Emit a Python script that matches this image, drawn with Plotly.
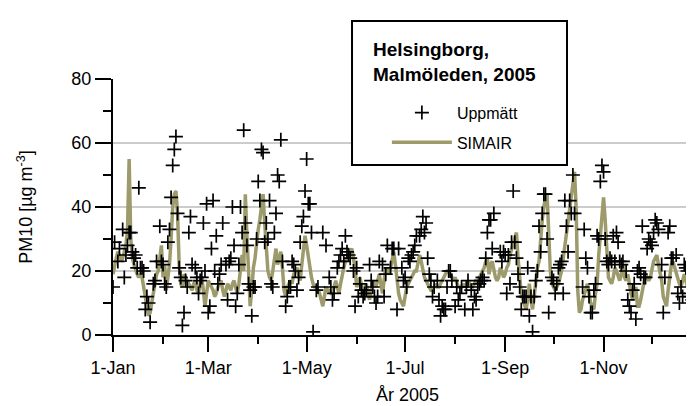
import pandas as pd
import plotly.graph_objects as go

# daily series, 2005
days = pd.date_range("2005-01-01", periods=365, freq="D")

# SIMAIR model (daily mean PM10)
simair = [
    19, 22, 24, 26, 25, 23, 24, 26, 28, 33,
    55, 30, 24, 22, 20, 19, 18, 19, 18, 15,
    12, 8, 6, 7, 10, 14, 17, 19, 20, 25,
    28, 18, 22, 14, 18, 22, 30, 40, 44, 45,
    38, 22, 16, 15, 19, 18, 17, 16, 15, 14,
    16, 17, 14, 13, 16, 18, 14, 9, 13, 17,
    16, 15, 14, 12, 13, 15, 16, 17, 14, 12,
    14, 16, 15, 14, 16, 17, 15, 13, 16, 22,
    25, 20, 44, 31, 19, 9, 14, 21, 24, 30,
    33, 36, 40, 44, 35, 27, 20, 18, 17, 20,
    23, 27, 22, 24, 26, 21, 14, 12, 15, 16,
    17, 16, 19, 20, 21, 19, 17, 22, 27, 31,
    28, 24, 22, 18, 16, 15, 15, 14, 13, 11,
    9, 12, 15, 14, 14, 13, 13, 15, 17, 15,
    13, 16, 19, 21, 23, 24, 25, 26, 27, 24,
    21, 15, 16, 18, 15, 13, 14, 16, 13, 11,
    14, 17, 16, 15, 17, 19, 16, 13, 17, 21,
    20, 19, 21, 23, 26, 22, 16, 13, 11, 10,
    9, 12, 15, 16, 17, 18, 19, 20, 20, 22,
    25, 23, 20, 18, 17, 16, 15, 14, 14, 15,
    16, 15, 15, 16, 17, 18, 19, 20, 20, 19,
    18, 17, 18, 16, 15, 15, 15, 16, 15, 16,
    17, 16, 15, 15, 16, 17, 17, 18, 19, 20,
    21, 23, 24, 19, 22, 23, 20, 18, 17, 18,
    21, 20, 18, 19, 21, 22, 25, 27, 29, 31,
    32, 24, 18, 13, 11, 9, 8, 11, 16, 11,
    8, 12, 18, 21, 23, 30, 36, 40, 43, 44,
    30, 20, 16, 15, 14, 15, 16, 18, 20, 24,
    28, 33, 37, 41, 45, 49, 51, 40, 14, 7,
    8, 11, 13, 15, 16, 13, 10, 9, 8, 13,
    16, 25, 31, 40, 43, 36, 24, 18, 17, 16,
    18, 21, 20, 18, 17, 19, 22, 18, 17, 19,
    15, 13, 11, 13, 15, 9, 9, 11, 14, 17,
    19, 18, 17, 18, 21, 23, 24, 25, 22, 19,
    17, 12, 10, 9, 14, 19, 22, 23, 21, 19,
    17, 16, 15, 17, 19, 17, 15, 16, 17, 14,
    12, 12, 13, 15, 17,
]

# measured (Uppmätt), None = no measurement
uppmatt = [
    15, 29, None, 23, 27, None, 33, 18, 25, 28,
    32, 32, 26, 24, 25, 21, 46, 21, 21, 20,
    8, 12, 10, 4, None, 16, 17, 23, None, 34,
    23, 22, 16, 15, 29, 33, 43, 53, 58, 62,
    38, 21, 18, 3, 7, 17, 15, 32, 37, 22,
    None, 21, 18, 13, 17, 18, 35, 20, 41, 7,
    9, 27, 42, 20, 31, 16, 19, 22, 35, None,
    22, 11, 23, 24, 40, 28, 9, 13, 22, 40,
    32, 64, 35, 28, 16, 14, 6, 15, 15, 30,
    48, 42, 58, 57, 29, 35, 30, 42, 16, 15,
    32, 38, 50, 48, 61, 23, None, 9, 12, 15,
    15, 23, 22, 20, 14, 18, 29, 34, 37, 45,
    55, 41, 41, 32, 1, None, 14, 15, None, None,
    32, None, 28, None, 18, 15, 11, 13, None, 21,
    23, 25, 27, 23, 31, 26, 25, 24, None, 20,
    9, 21, 12, 16, 14, 12, 13, 14, None, 22,
    17, 15, 12, 10, 12, 23, None, 22, 12, 19,
    28, None, 21, 27, 27, None, 8, 27, None, 21,
    17, 18, 15, 24, 23, 25, 26, 28, 31, None,
    31, 33, 37, 32, 35, 24, 19, 17, 12, 15,
    None, 17, 11, 6, 9, 8, 8, 15, 20, 20,
    17, None, 9, 15, 11, 13, 15, None, 8, 15,
    17, None, 14, 8, 12, 11, 15, 16, 17, 18,
    17, 24, 32, 36, 36, 27, 38, None, None, None,
    26, 23, 26, 25, 13, 25, 16, 29, 45, 29,
    24, 19, 15, 8, 12, 12, 12, 21, 6, 12,
    1, 12, 17, 20, 34, 26, 38, 44, 44, 30,
    7, None, 18, 17, 13, 16, 21, 22, 23, 13,
    42, 34, 26, 42, 38, 50, 38, None, None, None,
    None, 15, 33, 24, 21, 12, 7, 7, 14, 16,
    31, 30, 48, 53, 51, 30, 23, 22, 24, 23,
    31, 23, 32, 29, 23, 22, 23, None, 20, 11,
    9, 7, 14, 16, 5, 20, 21, 19, 34, 18,
    18, 27, 30, 29, 28, 32, 36, 35, 33, None,
    22, 7, 18, None, 32, 34, 24, 24, None, 25,
    13, 10, 15, 12, 22, 21, 20, 12, 13, 11,
    3, 14, 15, 20, None,
]

tick_dates = ["2005-01-01", "2005-03-01", "2005-05-01",
              "2005-07-01", "2005-09-01", "2005-11-01"]
tick_labels = ["1-Jan", "1-Mar", "1-May", "1-Jul", "1-Sep", "1-Nov"]
minor_dates = ["2005-02-01", "2005-04-01", "2005-06-01",
               "2005-08-01", "2005-10-01", "2005-12-01"]

FONT = "Liberation Sans, Arial, sans-serif"

fig = go.Figure()

fig.add_trace(go.Scatter(
    x=days, y=simair, mode="lines", name="SIMAIR",
    line=dict(color="#9d9a6c", width=3.5),
    legendgroup="sim", legendrank=2))

fig.add_trace(go.Scatter(
    x=days, y=uppmatt, mode="markers", name="Uppmätt",
    marker=dict(symbol="cross-thin", size=10,
                line=dict(color="black", width=1.7)),
    legendgroup="obs", legendrank=1))

# legend frame + title
fig.add_shape(type="rect", xref="paper", yref="paper",
              x0=0.4058, x1=0.7708, y0=0.664, y1=1.2266,
              line=dict(color="black", width=2), fillcolor="white",
              layer="above")
fig.add_annotation(text="<b>Helsingborg,<br>Malmöleden, 2005</b>",
                   xref="paper", yref="paper", x=0.438, y=1.165,
                   xanchor="left", yanchor="top", align="left",
                   showarrow=False, font=dict(size=19, color="black"))

fig.update_layout(
    width=694, height=406,
    margin=dict(l=105, r=0, t=71, b=79, autoexpand=False),
    paper_bgcolor="white", plot_bgcolor="white",
    font=dict(family=FONT, size=18, color="black"),
    showlegend=True,
    legend=dict(x=0.465, y=0.935, xanchor="left", yanchor="top",
                bgcolor="rgba(0,0,0,0)", borderwidth=0,
                font=dict(size=16), itemwidth=60, tracegroupgap=6),
)

fig.update_xaxes(
    type="date", range=["2005-01-01", "2006-01-01"],
    tickvals=tick_dates, ticktext=tick_labels,
    ticks="outside", ticklen=15, tickwidth=2, tickcolor="black",
    minor=dict(tickvals=minor_dates, ticks="outside", ticklen=7,
               tickwidth=2, tickcolor="black", showgrid=False),
    showline=True, linecolor="black", linewidth=2,
    showgrid=False, zeroline=False,
    title=dict(text="År 2005", font=dict(size=18), standoff=12),
)

fig.update_yaxes(
    range=[0, 80], dtick=20,
    ticks="outside", ticklen=16, tickwidth=2, tickcolor="black",
    minor=dict(dtick=10, ticks="outside", ticklen=8, tickwidth=2,
               tickcolor="black", showgrid=False),
    showline=True, linecolor="black", linewidth=2,
    showgrid=True, gridcolor="#cccccc", gridwidth=2, zeroline=False,
    title=dict(text="PM10 [µg m<sup>-3</sup>]", font=dict(size=18),
               standoff=34),
)

fig.write_html("out.html")
